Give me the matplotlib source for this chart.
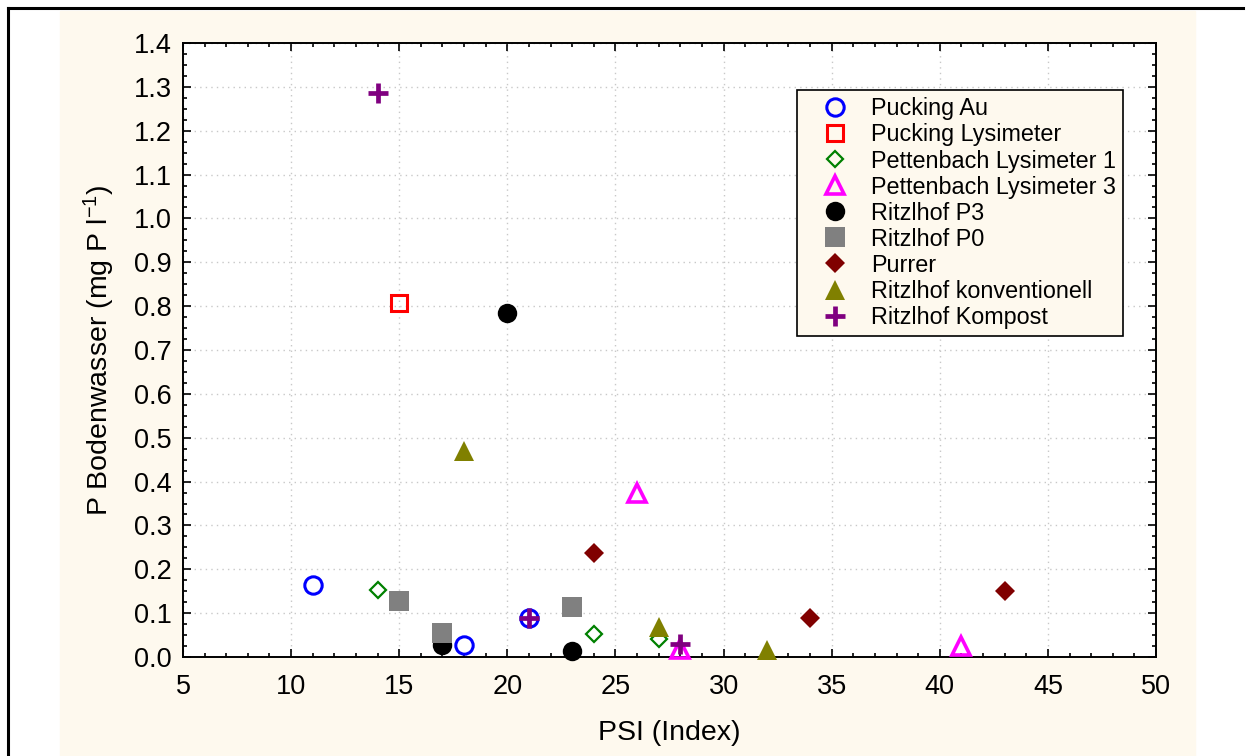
import matplotlib.pyplot as plt
from matplotlib.patches import Rectangle
from matplotlib.lines import Line2D
from matplotlib.ticker import MultipleLocator

plt.rcParams['font.family'] = ['Liberation Sans', 'DejaVu Sans']
plt.rcParams['mathtext.default'] = 'regular'

# --- Messwerte je Standort (PSI, P im Bodenwasser) ---
pucking_au_x = [11, 18, 21]
pucking_au_y = [0.165, 0.028, 0.088]

pucking_lys_x = [15]
pucking_lys_y = [0.807]

pettenbach1_x = [14, 24, 27]
pettenbach1_y = [0.152, 0.053, 0.040]

pettenbach3_x = [26, 28, 41]
pettenbach3_y = [0.375, 0.018, 0.025]

ritzlhof_p3_x = [17, 20, 23]
ritzlhof_p3_y = [0.027, 0.785, 0.014]

ritzlhof_p0_x = [15, 17, 23]
ritzlhof_p0_y = [0.128, 0.055, 0.115]

purrer_x = [24, 34, 43]
purrer_y = [0.238, 0.090, 0.150]

ritzlhof_konv_x = [18, 27, 32]
ritzlhof_konv_y = [0.470, 0.068, 0.015]

ritzlhof_komp_x = [14, 21, 28]
ritzlhof_komp_y = [1.285, 0.088, 0.030]

labels = ["Pucking Au", "Pucking Lysimeter", "Pettenbach Lysimeter 1",
          "Pettenbach Lysimeter 3", "Ritzlhof P3", "Ritzlhof P0", "Purrer",
          "Ritzlhof konventionell", "Ritzlhof Kompost"]

CREAM = "#fef9ee"

fig = plt.figure(figsize=(12.46, 7.56), dpi=100)
fig.patch.set_facecolor("white")

# cremefarbener Hintergrund + Rahmenlinien oben/links
W, H = 1246, 756
fig.add_artist(Rectangle((60 / W, 0), (1195 - 60) / W, 1 - 11 / H,
                         transform=fig.transFigure, color=CREAM, zorder=-10))
fig.add_artist(Line2D([8 / W, 1243 / W], [1 - 8 / H, 1 - 8 / H],
                      transform=fig.transFigure, color="black", lw=2.2, zorder=-5))
fig.add_artist(Line2D([8 / W, 8 / W], [0, 1 - 8 / H],
                      transform=fig.transFigure, color="black", lw=2.2, zorder=-5))

ax = fig.add_axes([183 / W, 1 - 657 / H, (1156 - 183) / W, (657 - 43) / H])
ax.set_zorder(1)
ax.set_facecolor("white")

series = [
    (pucking_au_x, pucking_au_y, dict(marker="o", ms=12.5, mfc="none", mec="#0000ff", mew=2.2)),
    (pucking_lys_x, pucking_lys_y, dict(marker="s", ms=12, mfc="none", mec="#ff0000", mew=2.2)),
    (pettenbach1_x, pettenbach1_y, dict(marker="D", ms=8.5, mfc="none", mec="#008000", mew=1.6)),
    (pettenbach3_x, pettenbach3_y, dict(marker="^", ms=12.5, mfc="none", mec="#ff00ff", mew=2.6)),
    (ritzlhof_p3_x, ritzlhof_p3_y, dict(marker="o", ms=14, mfc="black", mec="black", mew=0)),
    (ritzlhof_p0_x, ritzlhof_p0_y, dict(marker="s", ms=14, mfc="#808080", mec="#808080", mew=0)),
    (purrer_x, purrer_y, dict(marker="D", ms=9.8, mfc="#800000", mec="#800000", mew=0)),
    (ritzlhof_konv_x, ritzlhof_konv_y, dict(marker="^", ms=14, mfc="#808000", mec="#808000", mew=0)),
    (ritzlhof_komp_x, ritzlhof_komp_y, dict(marker="+", ms=14.5, mec="#800080", mew=3.4)),
]

for (x, y, style), lab in zip(series, labels):
    ax.plot(x, y, ls="none", label=lab, zorder=3, clip_on=False, **style)

ax.set_xlim(5, 50)
ax.set_ylim(0, 1.4)
ax.xaxis.set_major_locator(MultipleLocator(5))
ax.xaxis.set_minor_locator(MultipleLocator(1))
ax.yaxis.set_major_locator(MultipleLocator(0.1))
ax.yaxis.set_minor_locator(MultipleLocator(0.025))
ax.yaxis.set_major_formatter(plt.FormatStrFormatter("%.1f"))

ax.tick_params(which="both", direction="in", top=True, right=True,
               width=1.2, color="black")
ax.tick_params(which="major", length=6, labelsize=19.5, pad=8)
ax.tick_params(axis="x", which="major", pad=12)
ax.tick_params(which="minor", length=3)

ax.grid(True, which="major", color="#c8c8c8", ls=(0, (1, 3)), lw=1)
ax.set_axisbelow(True)
for sp in ax.spines.values():
    sp.set_linewidth(1.4)

ax.set_xlabel("PSI (Index)", fontsize=20.5, labelpad=15)
ax.set_ylabel("P Bodenwasser (mg P l$^{-1}$)", fontsize=20.5, labelpad=12)

leg = ax.legend(loc="upper left", bbox_to_anchor=(0.631, 0.9235), fontsize=16.8,
                frameon=True, fancybox=False, shadow=False, framealpha=1,
                facecolor=CREAM, edgecolor="black", labelspacing=0.13,
                handletextpad=0.25, handlelength=2.59, borderpad=0.32,
                borderaxespad=0, numpoints=1)
leg.get_frame().set_linewidth(1.2)

fig.savefig("out.png", dpi=100)
